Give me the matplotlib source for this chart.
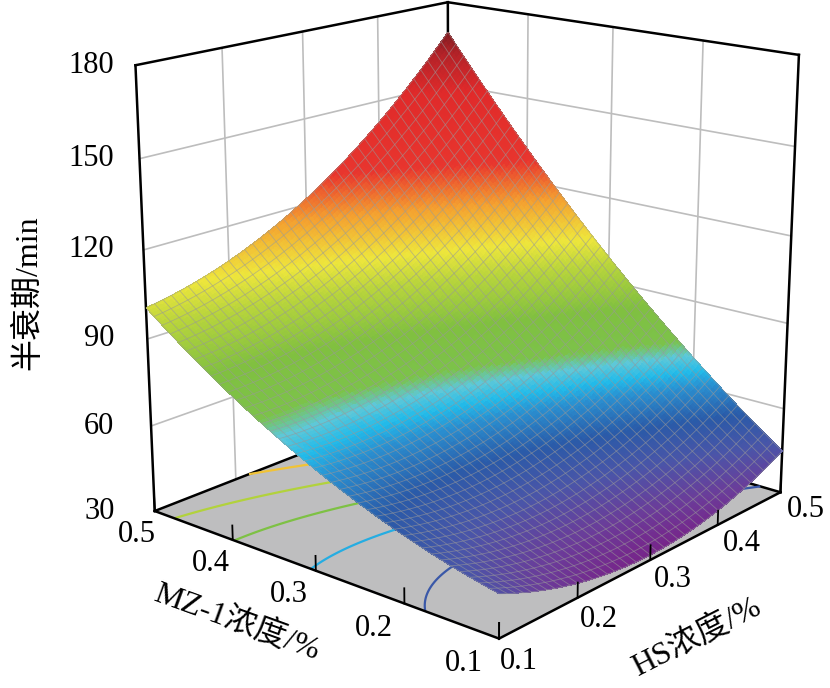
import numpy as np
import matplotlib
matplotlib.use('Agg')
import matplotlib.pyplot as plt
from matplotlib.colors import LinearSegmentedColormap, Normalize

plt.rcParams['font.family'] = ['Liberation Serif', 'Noto Sans CJK SC']
plt.rcParams['axes.unicode_minus'] = False

# values: half-life (min); rows = MZ-1 %, cols = HS %
mz = [0.1, 0.2, 0.3, 0.4, 0.5]
hs = [0.1, 0.2, 0.3, 0.4, 0.5]
half_life = [
    [47.0, 35.0, 30.0, 34.1, 45.0],
    [53.0, 45.3, 46.9, 55.5, 70.9],
    [63.0, 62.1, 68.2, 81.3, 101.2],
    [79.4, 83.2, 93.9, 111.5, 131.0],
    [100.4, 108.7, 123.9, 144.0, 165.0],
]
z_ticks = [30, 60, 90, 120, 150, 180]
contour_levels = [50, 65, 80, 95, 110, 125, 140, 155]

# colour stops (z value, colour)
cmap_z = [30, 38, 46, 54, 62, 66, 70, 74, 84, 96, 104, 116, 128, 150, 162, 172, 180]
cmap_c = ['#7a1f86', '#6a3d9a', '#4a55a8', '#2a5aa8', '#2a8fd0', '#22bbea',
          '#5ec8d8', '#7cc24a', '#80c040', '#b8d43c', '#eee63c', '#f4a030',
          '#e8352e', '#e02a2a', '#b42228', '#6a1a1e', '#501418']

zmin, zmax = z_ticks[0], z_ticks[-1]
cmap = LinearSegmentedColormap.from_list(
    'rsm', [((z - zmin) / (zmax - zmin), c) for z, c in zip(cmap_z, cmap_c)])
norm = Normalize(zmin, zmax)

# quadratic response surface through the read values (coded variables)
mz_a = np.array(mz)
hs_a = np.array(hs)
Yg, Xg = np.meshgrid(mz_a, hs_a, indexing='ij')
A = (Yg - 0.3) / 0.2
B = (Xg - 0.3) / 0.2
M = np.column_stack([np.ones(A.size), A.ravel(), B.ravel(), (A * B).ravel(),
                     (A ** 2).ravel(), (B ** 2).ravel()])
coef = np.linalg.lstsq(M, np.array(half_life).ravel(), rcond=None)[0]

n = 121
hs_f = np.linspace(hs[0], hs[-1], n)
mz_f = np.linspace(mz[0], mz[-1], n)
X, Y = np.meshgrid(hs_f, mz_f)
a = (Y - 0.3) / 0.2
b = (X - 0.3) / 0.2
Z = coef[0] + coef[1] * a + coef[2] * b + coef[3] * a * b + coef[4] * a ** 2 + coef[5] * b ** 2

W, H = 830, 688
fig = plt.figure(figsize=(W / 100, H / 100), dpi=100)
ax = fig.add_axes([0.056, 0.069, 1.0, 1.0], projection='3d', computed_zorder=False)
ax.set_proj_type('persp', focal_length=0.62)
ax.view_init(elev=17, azim=-139.5)
ax.set_box_aspect((1, 1, 1.01), zoom=1.12)

x0, x1 = hs[0], hs[-1]
y0, y1 = mz[0], mz[-1]
ax.set_xlim(x0, x1)
ax.set_ylim(y0, y1)
ax.set_zlim(zmin, zmax)

ax.grid(False)
ax.xaxis.set_pane_color((1, 1, 1, 1))
ax.yaxis.set_pane_color((1, 1, 1, 1))
ax.zaxis.set_pane_color((0.745, 0.745, 0.75, 1))
for axis in (ax.xaxis, ax.yaxis, ax.zaxis):
    axis.pane.set_edgecolor('none')
    axis.line.set_visible(False)
    axis.label.set_visible(False)
    axis.offsetText.set_visible(False)
ax.set_xticks([])
ax.set_yticks([])
ax.set_zticks([])

# wall grid
gc = '#bdbdbd'
for v in hs[1:-1]:
    ax.plot([v, v], [y1, y1], [zmin, zmax], color=gc, lw=1.2, zorder=1)
for v in mz[1:-1]:
    ax.plot([x1, x1], [v, v], [zmin, zmax], color=gc, lw=1.2, zorder=1)
for v in z_ticks[1:-1]:
    ax.plot([x0, x1], [y1, y1], [v, v], color=gc, lw=1.2, zorder=1)
    ax.plot([x1, x1], [y0, y1], [v, v], color=gc, lw=1.2, zorder=1)

# back box edges
ek = dict(color='black', lw=1.8, zorder=1)
ax.plot([x0, x1], [y1, y1], [zmin, zmin], **ek)
ax.plot([x1, x1], [y0, y1], [zmin, zmin], **ek)
for px, py in ((x0, y1), (x1, y1), (x1, y0)):
    ax.plot([px, px], [py, py], [zmin, zmax], **ek)
ax.plot([x0, x1], [y1, y1], [zmax, zmax], **ek)
ax.plot([x1, x1], [y0, y1], [zmax, zmax], **ek)

# floor contours
ax.contour(X, Y, Z, levels=contour_levels, zdir='z', offset=zmin,
           cmap=cmap, norm=norm, linewidths=1.6, zorder=2)

# surface + mesh
ax.plot_surface(X, Y, Z, cmap=cmap, norm=norm, rstride=1, cstride=1,
                linewidth=0, antialiased=False, zorder=3)
ax.plot_wireframe(X, Y, Z, rstride=3, cstride=3, color=(0.6, 0.6, 0.6, 0.6),
                  linewidth=0.6, zorder=4)

# front floor edges and vertical tick marks
fk = dict(color='black', lw=1.8, zorder=5)
ax.plot([x0, x1], [y0, y0], [zmin, zmin], **fk)
ax.plot([x0, x0], [y0, y1], [zmin, zmin], **fk)
tl = 5
for v in hs:
    ax.plot([v, v], [y0, y0], [zmin, zmin + tl], color='black', lw=1.3, zorder=5)
for v in mz:
    ax.plot([x0, x0], [v, v], [zmin, zmin + tl], color='black', lw=1.3, zorder=5)

# tick labels: project the tick points, then place plain figure text
fig.canvas.draw()
P = ax.get_proj()


def to_px(x, y, z):
    v = P @ np.array([x, y, z, 1.0])
    return ax.transData.transform((v[0] / v[3], v[1] / v[3]))


def put(px, py, s, **kw):
    fx, fy = fig.transFigure.inverted().transform((px, py))
    fig.text(fx, fy, s, **kw)


fs = 22
for v in mz:
    t = (y1 - v) / (y1 - y0)
    px, py = to_px(x0, v, zmin)
    put(px - 18 - 17 * t, py - 23 - 2 * t, f'{v:.1f}', fontsize=fs,
        ha='center', va='center')
for v in hs:
    t = (v - x0) / (x1 - x0)
    px, py = to_px(v, y0, zmin)
    put(px + 20 + 5 * t, py - 23 + 6 * t, f'{v:.1f}', fontsize=fs,
        ha='center', va='center')
right_x = to_px(x0, y1, zmax)[0] - 21
for v in z_ticks:
    px, py = to_px(x0, y1, v)
    put(right_x, py, str(v), fontsize=fs, ha='right', va='center')

# axis titles
fig.text(28 / W, 1 - 293 / H, '半衰期/min', fontsize=23, rotation=90,
         ha='center', va='center')
fig.text(237 / W, 1 - 622 / H, 'MZ-1浓度/%', fontsize=23, rotation=-20,
         ha='center', va='center', rotation_mode='anchor')
fig.text(697 / W, 1 - 637 / H, 'HS浓度/%', fontsize=23, rotation=27,
         ha='center', va='center', rotation_mode='anchor')

fig.savefig('out.png', dpi=100)
